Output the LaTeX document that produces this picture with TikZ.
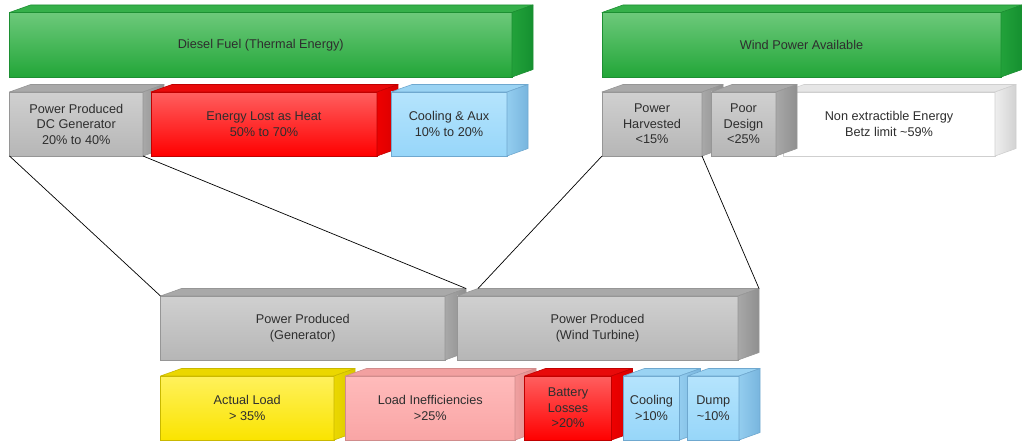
\documentclass[tikz,border=0pt]{standalone}
\usepackage{fontspec}
\setmainfont{Liberation Sans}
\usetikzlibrary{calc}
% colour schemes: T/B front top/bottom, U top face, S/R side left/right, D border
\definecolor{gnT}{HTML}{6DC97B}\definecolor{gnB}{HTML}{22A638}\definecolor{gnU}{HTML}{35B04A}
\definecolor{gnS}{HTML}{22A23A}\definecolor{gnR}{HTML}{159030}\definecolor{gnD}{HTML}{1C8F32}
\definecolor{gyT}{HTML}{D0D0D0}\definecolor{gyB}{HTML}{B6B6B6}\definecolor{gyU}{HTML}{A9A9A9}
\definecolor{gyS}{HTML}{A8A8A8}\definecolor{gyR}{HTML}{8F8F8F}\definecolor{gyD}{HTML}{969696}
\definecolor{rdT}{HTML}{FF5F5F}\definecolor{rdB}{HTML}{FF0000}\definecolor{rdU}{HTML}{E80A0A}
\definecolor{rdS}{HTML}{EE0000}\definecolor{rdR}{HTML}{D80000}\definecolor{rdD}{HTML}{C00000}
\definecolor{blT}{HTML}{B5E4FD}\definecolor{blB}{HTML}{97D6F9}\definecolor{blU}{HTML}{9AD3F3}
\definecolor{blS}{HTML}{93CDEF}\definecolor{blR}{HTML}{78B5DE}\definecolor{blD}{HTML}{6FA8CF}
\definecolor{ylT}{HTML}{FFF15C}\definecolor{ylB}{HTML}{FAE400}\definecolor{ylU}{HTML}{EBD700}
\definecolor{ylS}{HTML}{EBD800}\definecolor{ylR}{HTML}{D9C600}\definecolor{ylD}{HTML}{C9B800}
\definecolor{pkT}{HTML}{FFBBBB}\definecolor{pkB}{HTML}{F9A5A5}\definecolor{pkU}{HTML}{F2A0A0}
\definecolor{pkS}{HTML}{EFA0A0}\definecolor{pkR}{HTML}{E08888}\definecolor{pkD}{HTML}{D08C8C}
\definecolor{whT}{HTML}{FFFFFF}\definecolor{whB}{HTML}{FFFFFF}\definecolor{whU}{HTML}{E6E6E6}
\definecolor{whS}{HTML}{EEEEEE}\definecolor{whR}{HTML}{D2D2D2}\definecolor{whD}{HTML}{CFCFCF}
\definecolor{txt}{HTML}{2E2E2E}
\def\ddx{21}
\def\ddy{7.5}
\tikzset{
  front/.style={rectangle, inner sep=0pt, outer sep=0pt, line width=0.6pt,
    font=\fontsize{12.7}{15.5}\selectfont, text=txt, align=center},
  face/.style={line width=0.6pt, line join=round},
  conn/.style={line width=0.7pt, draw=black}
}
% #1 name, #2 x, #3 y, #4 width, #5 height, #6 scheme, #7 text
\newcommand\drawbox[7]{%
  \node[front, top color=#6T, bottom color=#6B, draw=#6D,
        minimum width=#4pt, minimum height=#5pt] (#1) at (#2+#4/2, #3+#5/2) {#7};
  \coordinate (#1-btl) at ($(#1.north west)+(\ddx,-\ddy)$);
  \coordinate (#1-btr) at ($(#1.north east)+(\ddx,-\ddy)$);
  \coordinate (#1-bbr) at ($(#1.south east)+(\ddx,-\ddy)$);
  \draw[face, fill=#6U, draw=#6D] (#1.north west) -- (#1-btl) -- (#1-btr) -- (#1.north east) -- cycle;
  \draw[face, left color=#6S, right color=#6R, draw=#6D] (#1.north east) -- (#1-btr) -- (#1-bbr) -- (#1.south east) -- cycle;
}
\begin{document}
\begin{tikzpicture}[x=1pt, y=-1pt]
\useasboundingbox (0,0) rectangle (1022,443);
% top row
\drawbox{diesel}{9.5}{12.5}{502.5}{64.5}{gn}{Diesel Fuel (Thermal Energy)}
\drawbox{wind}{602}{12.5}{399}{64.5}{gn}{Wind Power Available}
% second row
\drawbox{dcgen}{9.5}{92}{133.5}{64}{gy}{Power Produced\\DC Generator\\20\% to 40\%}
\drawbox{heat}{151}{92}{226}{64}{rd}{Energy Lost as Heat\\50\% to 70\%}
\drawbox{cool}{391}{92}{116}{64}{bl}{Cooling \& Aux\\10\% to 20\%}
\drawbox{betz}{783}{92}{212}{64}{wh}{Non extractible Energy\\Betz limit \textasciitilde59\%}
\drawbox{harv}{602}{92}{100}{64}{gy}{Power\\Harvested\\<15\%}
\drawbox{poor}{711}{92}{65}{64}{gy}{Poor\\Design\\<25\%}
% third row
\drawbox{gen}{160.5}{296}{284.5}{64}{gy}{Power Produced\\(Generator)}
\drawbox{turb}{457}{296}{281}{64}{gy}{Power Produced\\(Wind Turbine)}
% connectors
\draw[conn] (dcgen.south west) -- (gen.north west);
\draw[conn] (dcgen.south east) -- (gen-btr);
\draw[conn] (harv.south west) -- (turb-btl);
\draw[conn] (harv.south east) -- (turb-btr);
% bottom row
\drawbox{load}{160.5}{376}{173.5}{64}{yl}{Actual Load\\> 35\%}
\drawbox{ineff}{345.5}{376}{169.5}{64}{pk}{Load Inefficiencies\\>25\%}
\drawbox{batt}{524.5}{376}{87}{64}{rd}{Battery\\Losses\\>20\%}
\drawbox{bcool}{623.5}{376}{56}{64}{bl}{Cooling\\>10\%}
\drawbox{dump}{687.5}{376}{51.5}{64}{bl}{Dump\\\textasciitilde10\%}
\end{tikzpicture}
\end{document}
